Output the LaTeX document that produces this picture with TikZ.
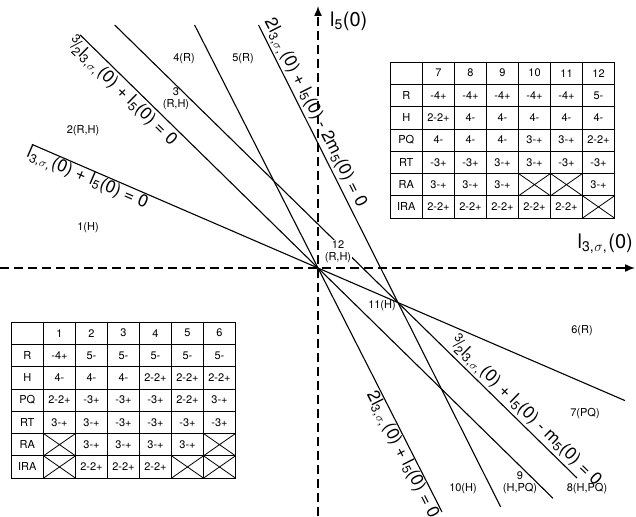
\documentclass[tikz,border=0pt]{standalone}
\usepackage{fontspec}
\setmainfont{TeX Gyre Heros}
\usetikzlibrary{arrows.meta}
\newcommand\Lt{l\textsubscript{3,\kern.05em$\sigma$,}\kern.05em(0)}
\newcommand\Lf{l\textsubscript{5}(0)}
\newcommand\Mf{m\textsubscript{5}(0)}
\newcommand\thalf{\textsuperscript{3}\kern-.12em/\kern-.1em\textsubscript{2}}
\begin{document}
\begin{tikzpicture}[x=1pt,y=-1pt,
  ln/.style={line width=1.1pt},
  ax/.style={line width=1.5pt, dash pattern=on 9pt off 5pt, -{Latex[length=10pt,width=8pt]}},
  tbl/.style={line width=0.8pt},
  cell/.style={inner sep=0pt, font=\fontsize{11}{12}\selectfont},
  reg/.style={inner sep=0pt, font=\fontsize{11}{12}\selectfont, align=center},
  llab/.style={inner sep=0pt, font=\fontsize{17.5}{18}\selectfont},
  axlab/.style={inner sep=0pt, font=\fontsize{20}{22}\selectfont}]
\useasboundingbox (0,0) rectangle (636,516);
% key points
\coordinate (O) at (318,268);
\coordinate (P11) at (398,302.6);
\coordinate (A1) at (32,144.4);   \coordinate (A2) at (625,400.6);
\coordinate (B1) at (80,34.8);    \coordinate (B2) at (553,498.3);
\coordinate (C1) at (114.7,25);   \coordinate (C2) at (577,478);
\coordinate (D1) at (194.6,25);   \coordinate (D2) at (442,512);
\coordinate (E1) at (258.5,25);   \coordinate (E2) at (500.7,507);
\coordinate (XL) at (0,268);      \coordinate (XR) at (635,268);
\coordinate (YB) at (318,516);    \coordinate (YT) at (318,6);
% axes
\draw[ax] (XL) -- (XR);
\draw[ax] (YB) -- (YT);
\node[axlab, anchor=west] (ylab) at (330,21) {\Lf};
\node[axlab, anchor=east] (xlab) at (633,244) {\Lt};
% lines
\draw[ln] (A1) -- (O) -- (P11) -- (A2);
\draw[ln] (B1) -- (O) -- (B2);
\draw[ln] (C1) -- (P11) -- (C2);
\draw[ln] (D1) -- (O) -- (D2);
\draw[ln] (E1) -- (P11) -- (E2);
% line labels
\path (A1) -- (O) node[llab, sloped, pos=0.207, below=1pt] (labA) {\Lt\ + \Lf\ = 0};
\path (B1) -- (O) node[llab, sloped, pos=0.21, below=1pt] (labB) {\thalf\Lt\ + \Lf\ = 0};
\path (E1) -- (P11) node[llab, sloped, pos=0.335, above=2pt] (labE) {2\Lt\ + \Lf\ - 2\Mf\ = 0};
\path (P11) -- (C2) node[llab, sloped, pos=0.668, above=2pt] (labC) {\thalf\Lt\ + \Lf\ - \Mf\ = 0};
\path (O) -- (D2) node[llab, sloped, pos=0.748, below=1pt] (labD) {2\Lt\ + \Lf\ = 0};
% region labels
\node[reg] (r4) at (184,59) {4(R)};
\node[reg] (r5) at (243,59) {5(R)};
\node[reg] (r3) at (176,99) {3\\(R,H)};
\node[reg] (r2) at (83,131) {2(R,H)};
\node[reg] (r1) at (88,228) {1(H)};
\node[reg, fill=white, inner sep=1pt] (r12) at (338,252) {12\\(R,H)};
\node[reg] (r11) at (382,306) {11(H)};
\node[reg] (r6) at (582,331) {6(R)};
\node[reg] (r7) at (585,414) {7(PQ)};
\node[reg] (r8) at (587,489) {8(H,PQ)};
\node[reg] (r9) at (520,483) {9\\(H,PQ)};
\node[reg] (r10) at (463,489) {10(H)};
% table top right
\begin{scope}[shift={(390,62)}]
  \draw[tbl] (0,0) rectangle (224.5,156.1);
  \foreach \i in {1,...,6} \draw[tbl] (0,\i*22.3) -- (224.5,\i*22.3);
  \foreach \j in {0,...,5} \draw[tbl] (32.5+\j*32,0) -- (32.5+\j*32,156.1);
  \foreach \h [count=\j] in {7,8,9,10,11,12} \node[cell] (tah\j) at (16.5+\j*32,11.15) {\h};
  \foreach \rl [count=\i] in {R,H,PQ,RT,RA,IRA} \node[cell] (tar\i) at (16.25,11.15+\i*22.3) {\rl};
  \foreach \row [count=\i] in {{-4+,-4+,-4+,-4+,-4+,5-},{2-2+,4-,4-,4-,4-,4-},{4-,4-,4-,3-+,3-+,2-2+},{-3+,-3+,3-+,3-+,-3+,-3+},{3-+,3-+,3-+,,,3-+},{2-2+,2-2+,2-2+,2-2+,2-2+,}}
    \foreach \e [count=\j] in \row \node[cell] (ta-\i-\j) at (16.5+\j*32,11.15+\i*22.3) {\e};
  \foreach \r/\c in {5/4,5/5,6/6} \draw[tbl] (\c*32+0.5,\r*22.3) -- ++(32,22.3) ++(-32,0) -- ++(32,-22.3);
\end{scope}
% table bottom left
\begin{scope}[shift={(11,322)}]
  \draw[tbl] (0,0) rectangle (224.5,156.1);
  \foreach \i in {1,...,6} \draw[tbl] (0,\i*22.3) -- (224.5,\i*22.3);
  \foreach \j in {0,...,5} \draw[tbl] (32.5+\j*32,0) -- (32.5+\j*32,156.1);
  \foreach \h [count=\j] in {1,2,3,4,5,6} \node[cell] (tbh\j) at (16.5+\j*32,11.15) {\h};
  \foreach \rl [count=\i] in {R,H,PQ,RT,RA,IRA} \node[cell] (tbr\i) at (16.25,11.15+\i*22.3) {\rl};
  \foreach \row [count=\i] in {{-4+,5-,5-,5-,5-,5-},{4-,4-,4-,2-2+,2-2+,2-2+},{2-2+,-3+,-3+,-3+,2-2+,3-+},{3-+,3-+,-3+,-3+,-3+,-3+},{,3-+,3-+,3-+,3-+,},{,2-2+,2-2+,2-2+,,}}
    \foreach \e [count=\j] in \row \node[cell] (tb-\i-\j) at (16.5+\j*32,11.15+\i*22.3) {\e};
  \foreach \r/\c in {5/1,5/6,6/1,6/5,6/6} \draw[tbl] (\c*32+0.5,\r*22.3) -- ++(32,22.3) ++(-32,0) -- ++(32,-22.3);
\end{scope}
\end{tikzpicture}
\end{document}
